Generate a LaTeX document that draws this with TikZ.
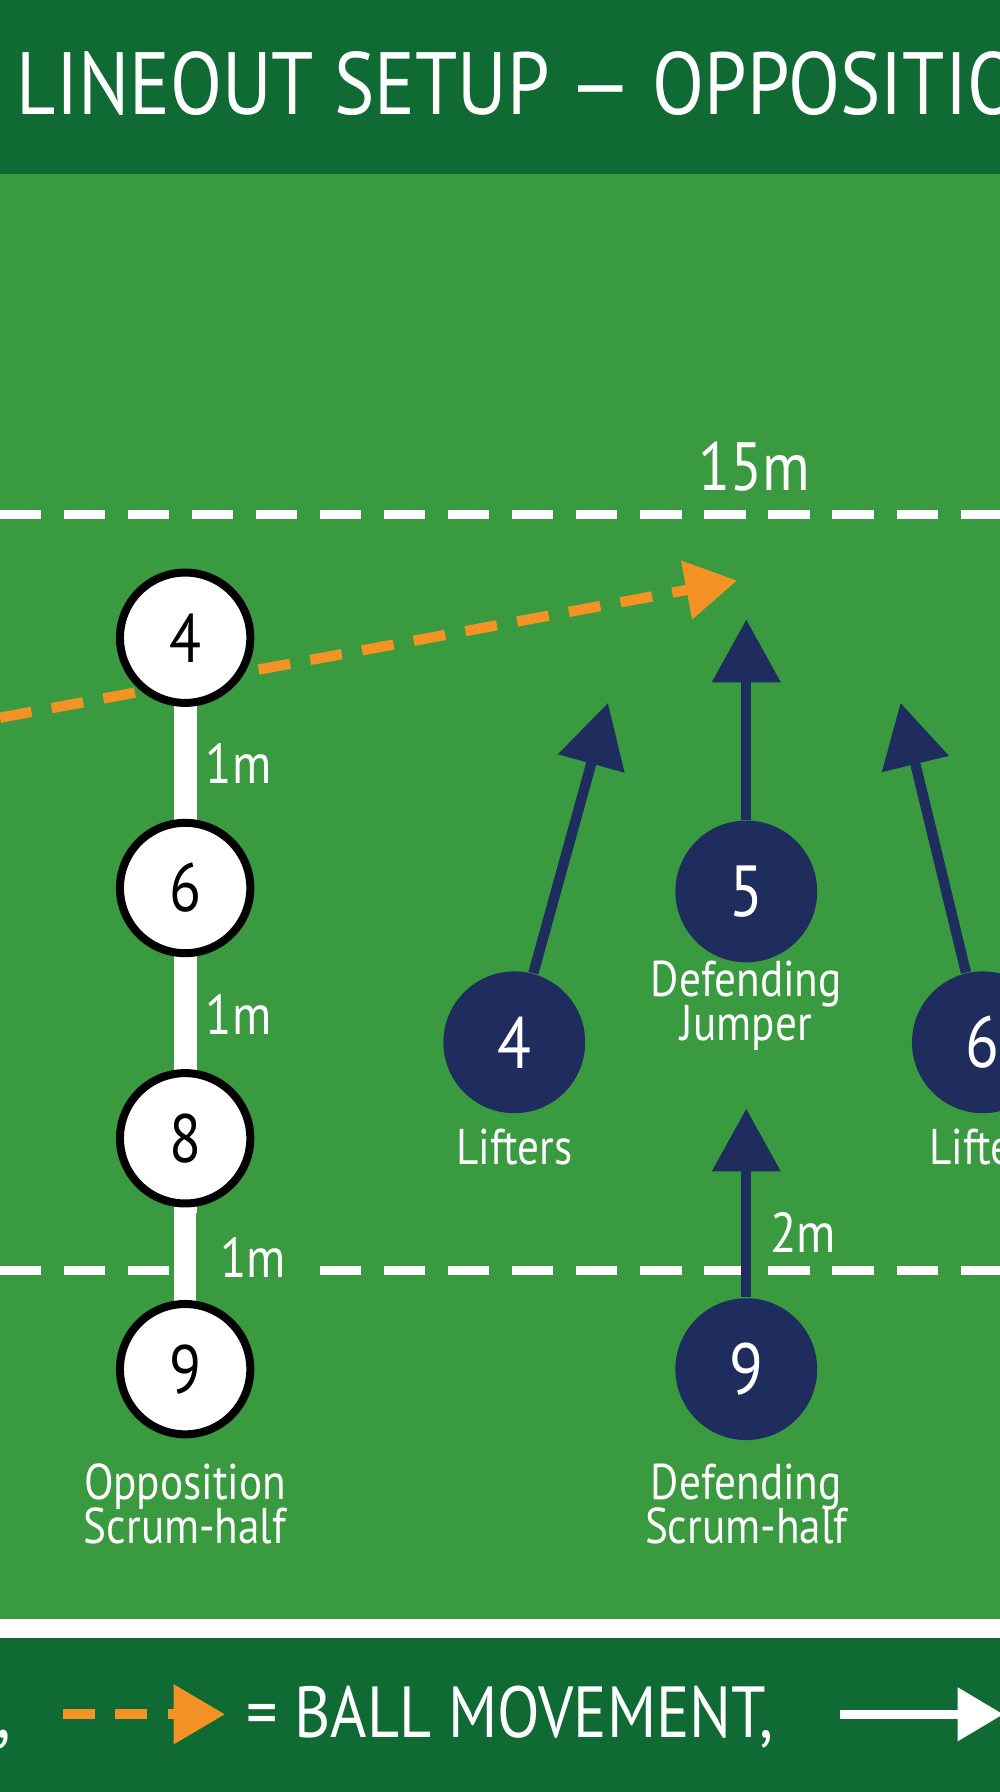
\documentclass[tikz,border=0pt]{standalone}
\usepackage{fontspec}
\setmainfont{PT Sans}[FakeStretch=0.86]
\usetikzlibrary{arrows.meta,positioning}
\definecolor{pitch}{HTML}{3A9A3F}
\definecolor{banner}{HTML}{0F6B33}
\definecolor{navy}{HTML}{1E2D5E}
\definecolor{ballorange}{HTML}{F39325}
\begin{document}
\begin{tikzpicture}[x=0.01cm,y=-0.01cm]
	\tikzset{
	  attacker/.style={circle,draw=black,line width=0.7mm,fill=white,minimum size=1.14cm,inner sep=0pt,font=\fontsize{17}{17}\selectfont},
	  defender/.style={circle,fill=navy,text=white,minimum size=1.24cm,inner sep=0pt,font=\fontsize{18}{18}\selectfont},
	  lbl/.style={text=white,font=\fontsize{12.5}{14}\selectfont,align=center},
	  dist/.style={text=white,fill=pitch,font=\fontsize{14}{14}\selectfont,anchor=west,inner sep=1pt},
	  runarrow/.style={navy,line width=0.9mm,-{Triangle[length=0.55cm,width=0.58cm]}},
	  ballarrow/.style={ballorange,line width=0.9mm,dash pattern=on 0.28cm off 0.18cm,-{Triangle[length=0.45cm,width=0.5cm]}},
	  linemark/.style={white,line width=0.8mm,dash pattern=on 0.36cm off 0.2cm}
	}
	\useasboundingbox (0,0) rectangle (875,1568);
	\fill[pitch] (0,0) rectangle (875,1568);
	% banners
	\fill[banner] (0,0) rectangle (875,152);
	\fill[banner] (0,1432) rectangle (875,1568);
	\draw[white,line width=1.6mm] (0,1425) -- (875,1425);
	\node[anchor=base west,text=white,inner sep=0pt,font=\fontsize{22}{22}\selectfont] (title) at (14,100) {LINEOUT SETUP — OPPOSITION THROW};

	% field lines
	\draw[linemark] (0,450) -- (875,450);
	\draw[linemark] (0,1112) -- (875,1112);
	\node[text=white,font=\fontsize{17}{17}\selectfont] (fifteen) at (660,408) {15m};

	% ball
	\coordinate (bs) at (0,628);
	\coordinate (be) at (645,508);
	\draw[ballarrow] (bs) -- (be);

	% opposition line
	\draw[white,line width=2mm] (162,558) -- (162,1198);
	\node[attacker] (a4) at (162,558) {4};
	\node[attacker] (a6) at (162,777) {6};
	\node[attacker] (a8) at (162,996) {8};
	\node[attacker] (a9) at (162,1198) {9};
	\node[dist] at (176,668) {1m};
	\node[dist] at (176,888) {1m};
	\node[dist,inner sep=6pt] at (171,1100) {1m};
	\node[lbl] (opp) at (162,1316) {Opposition\\[-3pt]Scrum-half};

	% defenders
	\node[defender] (d4) at (450,912) {4};
	\node[defender] (d5) at (653,780) {5};
	\node[defender] (d6) at (860,912) {6};
	\node[defender] (d9) at (653,1198) {9};
	\node[lbl] (lift1) at (450,1004) {Lifters};
	\node[lbl,anchor=west] (lift2) at (801,1004) {Lifters};
	\node[lbl] (jump) at (653,880) {Defending\\[-3pt]Jumper};
	\node[lbl] (dsh) at (653,1316) {Defending\\[-3pt]Scrum-half};

	\coordinate (t4) at (532,615);
	\coordinate (t5) at (653,542);
	\coordinate (t6) at (788,615);
	\coordinate (t9) at (653,970);
	\draw[runarrow] (d4) -- (t4);
	\draw[runarrow] (d5) -- (t5);
	\draw[runarrow] (d6) -- (t6);
	\draw[runarrow] (d9) -- (t9);
	\node[dist] at (670,1078) {2m};

	% key
	\node[anchor=base west,text=white,inner sep=0pt,font=\fontsize{19}{19}\selectfont] (comma) at (-4,1520) {,};
	\coordinate (k1) at (55,1500);
	\coordinate (k2) at (197,1500);
	\draw[ballarrow] (k1) -- (k2);
	\node[anchor=base west,text=white,inner sep=0pt,font=\fontsize{18}{18}\selectfont] (key) at (215,1520) {= BALL MOVEMENT,};
	\coordinate (k3) at (735,1500);
	\coordinate (k4) at (878,1500);
	\draw[white,line width=0.8mm,-{Triangle[length=0.4cm,width=0.45cm]}] (k3) -- (k4);
\end{tikzpicture}
\end{document}
